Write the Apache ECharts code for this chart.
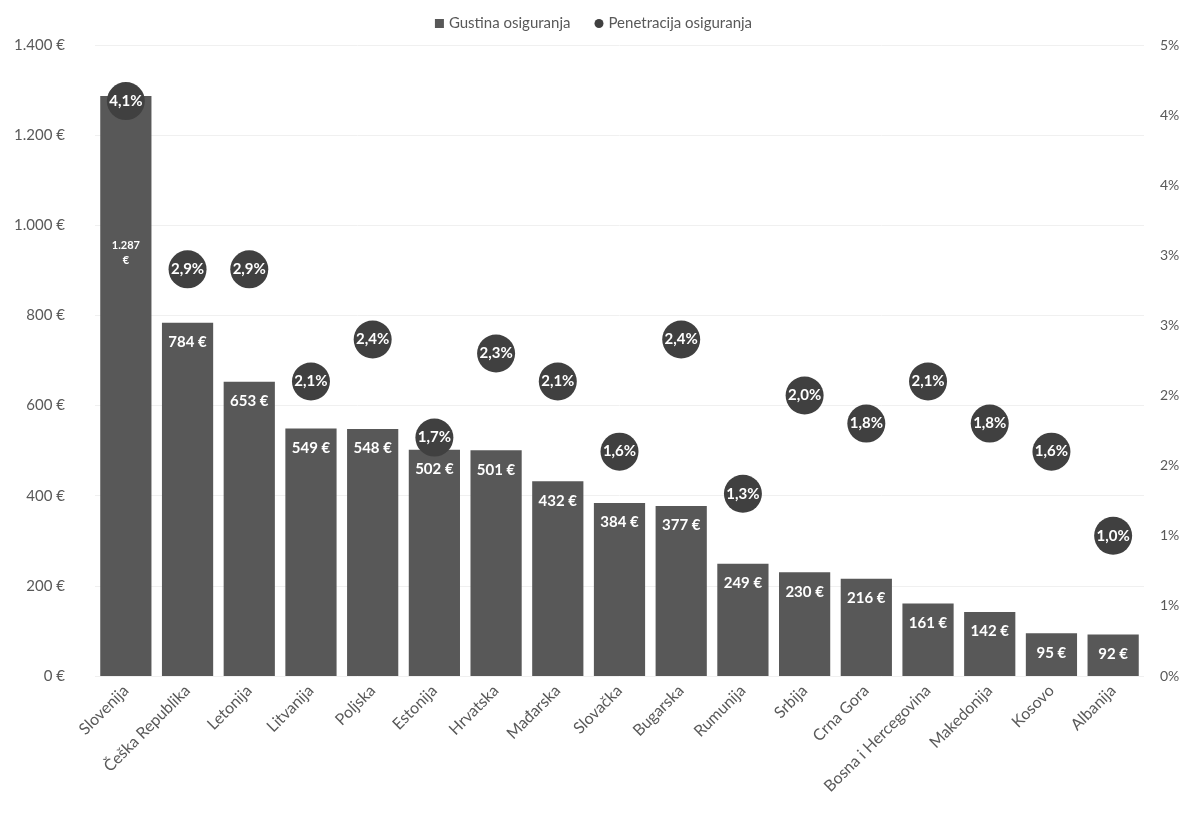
<!DOCTYPE html>
<html>
<head>
<meta charset="utf-8">
<script src="https://cdn.jsdelivr.net/npm/echarts@6/dist/echarts.min.js"></script>
<style>html,body{margin:0;padding:0;background:#fff}#c{width:1187px;height:822px}</style>
</head>
<body>
<div id="c"></div>
<script>
const categories = ['Slovenija','Češka Republika','Letonija','Litvanija','Poljska','Estonija','Hrvatska','Mađarska','Slovačka','Bugarska','Rumunija','Srbija','Crna Gora','Bosna i Hercegovina','Makedonija','Kosovo','Albanija'];
const gustina = [1287,784,653,549,548,502,501,432,384,377,249,230,216,161,142,95,92];
const penetracija = [4.1,2.9,2.9,2.1,2.4,1.7,2.3,2.1,1.6,2.4,1.3,2.0,1.8,2.1,1.8,1.6,1.0];

const FONT = 'Lato, "Open Sans", sans-serif';
function fmtEur(v){ return String(v).replace(/\B(?=(\d{3})+(?!\d))/g,'.') + ' €'; }

const barData = gustina.map((v,i)=>{
  if (i === 0) {
    return {value:v, label:{formatter:'1.287\n€', fontSize:11, distance:142, lineHeight:15}};
  }
  return v;
});

const chart = echarts.init(document.getElementById('c'));
chart.setOption({
  animation:false,
  textStyle:{fontFamily:FONT},
  legend:{
    top:11, left:'center', itemGap:24, itemWidth:9, itemHeight:9,
    textStyle:{fontSize:15,color:'#595959',fontFamily:FONT},
    data:[{name:'Gustina osiguranja',icon:'rect'},{name:'Penetracija osiguranja',icon:'circle'}]
  },
  grid:{left:95, right:43, top:45, bottom:146},
  xAxis:{
    type:'category', data:categories,
    axisLine:{show:false}, axisTick:{show:false},
    axisLabel:{rotate:45, color:'#595959', fontSize:16, fontFamily:FONT, interval:0, margin:12}
  },
  yAxis:[
    {type:'value', min:0, max:1400, interval:200,
     axisLine:{show:false}, axisTick:{show:false},
     splitLine:{lineStyle:{color:'#f0f0f0',width:1}},
     axisLabel:{color:'#595959', fontSize:15, fontFamily:FONT, margin:30, formatter:fmtEur}},
    {type:'value', min:0, max:4.5, interval:0.5,
     axisLine:{show:false}, axisTick:{show:false}, splitLine:{show:false},
     axisLabel:{color:'#595959', fontSize:14, fontFamily:FONT, margin:16, formatter:v=>Math.round(v)+'%'}}
  ],
  series:[
    {name:'Gustina osiguranja', type:'bar', data:barData, barCategoryGap:'17%',
     itemStyle:{color:'#585858'},
     label:{show:true, position:'insideTop', distance:12, color:'#fff', fontWeight:'bold', fontSize:15, fontFamily:FONT, formatter:p=>fmtEur(p.value)}},
    {name:'Penetracija osiguranja', type:'scatter', yAxisIndex:1, data:penetracija, symbol:'circle', symbolSize:38,
     itemStyle:{color:'#404040', opacity:1},
     label:{show:true, position:'inside', color:'#fff', fontWeight:'bold', fontSize:15, fontFamily:FONT, formatter:p=>p.value.toFixed(1).replace('.',',')+'%'}}
  ]
});
</script>
</body>
</html>
